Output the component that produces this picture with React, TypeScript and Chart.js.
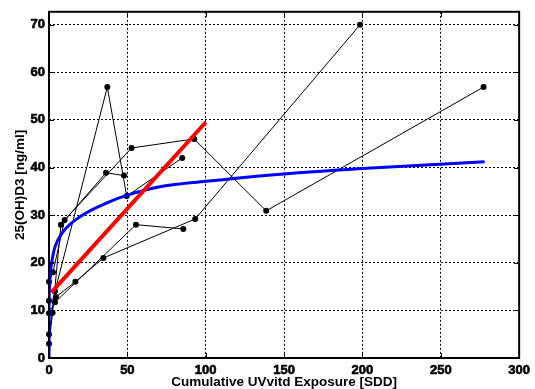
import React, { useEffect, useRef } from "react";
import { Chart, registerables } from "chart.js";

Chart.register(...registerables);

// Axis setup
const X_TICKS = [0, 50, 100, 150, 200, 250, 300];
const Y_TICKS = [0, 10, 20, 30, 40, 50, 60, 70];
const X_MIN = 0;
const X_MAX = 300;
const Y_MIN = 0;
const Y_MAX = 72.7;

// Individual subject trajectories (cumulative exposure, 25(OH)D3)
const SUBJ1_X = [0, 4.4, 16.8, 34.7, 93.3, 198.5];
const SUBJ1_Y = [12, 12.8, 16, 21, 29.2, 70];
const SUBJ2_X = [0, 3.8, 55.5, 85.7];
const SUBJ2_Y = [9.4, 11.7, 28, 27.1];
const SUBJ3_X = [0, 2.5, 10, 52.7, 92.6, 138.6, 277.3];
const SUBJ3_Y = [16, 18, 29, 44.1, 46, 30.9, 56.9];
const SUBJ4_X = [0, 3.8, 37.2, 49.6, 85];
const SUBJ4_Y = [5, 14, 56.9, 34, 42];
const SUBJ5_X = [0, 2.3, 7.6, 36.4, 47.9];
const SUBJ5_Y = [3, 9.5, 28, 38.9, 38.3];

// Linear fit (red)
const LIN_X = [1.5, 100];
const LIN_Y = [13.8, 49.5];

// Saturating fit (blue)
const FIT_X = [0, 0.02, 0.2, 0.6, 1.7, 3.8, 9, 19.5, 38.5, 50, 70, 100, 140, 200, 278];
const FIT_Y = [0, 9, 14, 17, 20, 23.3, 26.5, 29.6, 32.8, 34.2, 35.9, 37.1, 38.4, 39.8, 41.2];

const FONT = "'Liberation Sans', Arial, Helvetica, sans-serif";

function pts(xs: number[], ys: number[]) {
  return xs.map((x, i) => ({ x, y: ys[i] }));
}

const framePlugin = {
  id: "matlabFrame",
  afterDatasetsDraw(chart: any) {
    const { ctx, chartArea: a, scales } = chart;
    ctx.save();
    ctx.strokeStyle = "#000";
    ctx.lineWidth = 1;
    const L = 5;
    ctx.beginPath();
    for (const v of X_TICKS) {
      const px = Math.round(scales.x.getPixelForValue(v)) + 0.5;
      ctx.moveTo(px, a.bottom);
      ctx.lineTo(px, a.bottom - L);
      ctx.moveTo(px, a.top);
      ctx.lineTo(px, a.top + L);
    }
    for (const v of Y_TICKS) {
      const py = Math.round(scales.y.getPixelForValue(v)) + 0.5;
      ctx.moveTo(a.left, py);
      ctx.lineTo(a.left + L, py);
      ctx.moveTo(a.right, py);
      ctx.lineTo(a.right - L, py);
    }
    ctx.stroke();
    ctx.lineWidth = 2;
    ctx.strokeRect(a.left, a.top, a.right - a.left, a.bottom - a.top);
    ctx.restore();
  },
};

export default function App() {
  const ref = useRef<HTMLCanvasElement | null>(null);

  useEffect(() => {
    if (!ref.current) return;
    const subj = (xs: number[], ys: number[]) => ({
      data: pts(xs, ys),
      showLine: true,
      borderColor: "#000",
      backgroundColor: "#000",
      borderWidth: 1,
      pointRadius: 3,
      pointBorderWidth: 0,
      pointBackgroundColor: "#000",
      tension: 0,
      clip: false as any,
      order: 3,
    });
    const tickFont = { family: FONT, size: 13, weight: "bold" };
    const chart = new Chart(ref.current, {
      type: "scatter",
      data: {
        datasets: [
          subj(SUBJ1_X, SUBJ1_Y),
          subj(SUBJ2_X, SUBJ2_Y),
          subj(SUBJ3_X, SUBJ3_Y),
          subj(SUBJ4_X, SUBJ4_Y),
          subj(SUBJ5_X, SUBJ5_Y),
          {
            data: pts(FIT_X, FIT_Y),
            showLine: true,
            borderColor: "#0000ff",
            borderWidth: 3,
            pointRadius: 0,
            cubicInterpolationMode: "monotone",
            order: 2,
          } as any,
          {
            data: pts(LIN_X, LIN_Y),
            showLine: true,
            borderColor: "#ff0000",
            borderWidth: 4,
            pointRadius: 0,
            borderCapStyle: "butt",
            order: 1,
          } as any,
        ],
      },
      options: {
        responsive: false,
        animation: false,
        devicePixelRatio: 1,
        layout: { padding: { top: 11, right: 10, left: 0, bottom: 0 } },
        plugins: {
          legend: { display: false },
          tooltip: { enabled: false },
        },
        scales: {
          x: {
            type: "linear",
            min: X_MIN,
            max: X_MAX,
            afterBuildTicks: (s: any) => {
              s.ticks = X_TICKS.map((v) => ({ value: v }));
            },
            afterFit: (s: any) => {
              s.height = 31;
            },
            grid: { color: "#000", lineWidth: 1, drawTicks: false },
            border: { display: false, dash: [2, 2] },
            ticks: {
              color: "#000",
              padding: 5,
              maxRotation: 0,
              font: tickFont,
              textStrokeColor: "#000",
              textStrokeWidth: 0.6,
            },
            title: {
              display: true,
              text: "Cumulative UVvitd Exposure [SDD]",
              color: "#000",
              font: { family: FONT, size: 13.5, weight: "bold", lineHeight: 1 },
              padding: { top: 0, bottom: 0 },
            },
          },
          y: {
            type: "linear",
            min: Y_MIN,
            max: Y_MAX,
            afterBuildTicks: (s: any) => {
              s.ticks = Y_TICKS.map((v) => ({ value: v }));
            },
            afterFit: (s: any) => {
              s.width = 49;
            },
            grid: { color: "#000", lineWidth: 1, drawTicks: false },
            border: { display: false, dash: [2, 2] },
            ticks: {
              color: "#000",
              padding: 4,
              font: tickFont,
              textStrokeColor: "#000",
              textStrokeWidth: 0.6,
            },
            title: {
              display: true,
              text: "25(OH)D3 [ng/ml]",
              color: "#000",
              font: { family: FONT, size: 13.5, weight: "bold", lineHeight: 1 },
              padding: { top: 13.5, bottom: 0 },
            },
          },
        },
      } as any,
      plugins: [framePlugin],
    });
    return () => chart.destroy();
  }, []);

  return (
    <div style={{ position: "absolute", left: 0, top: 0, width: 535, height: 389, background: "#fff" }}>
      <canvas ref={ref} width={535} height={389} style={{ display: "block", width: 535, height: 389 }} />
    </div>
  );
}
